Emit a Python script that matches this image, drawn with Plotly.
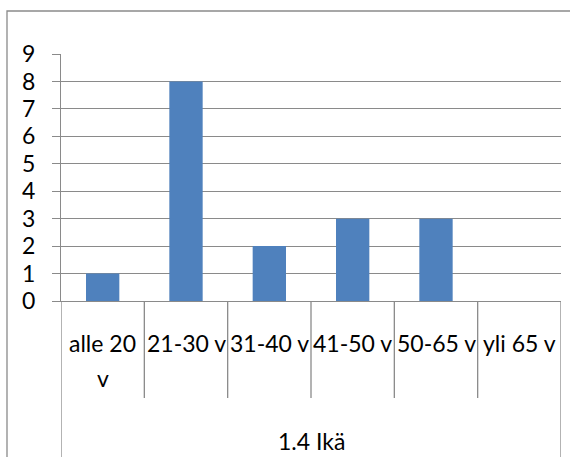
import plotly.graph_objects as go

categories = ["alle 20 v", "21-30 v", "31-40 v", "41-50 v", "50-65 v", "yli 65 v"]
label_lines = [["alle 20", "v"], ["21-30 v"], ["31-40 v"], ["41-50 v"], ["50-65 v"], ["yli 65 v"]]
values = [1, 8, 2, 3, 3, 0]
group_label = "1.4 Ikä"
y_ticks = list(range(0, 10))

W, H = 570, 457
ML, MR, MT, MB = 61, 9, 54, 156
PH = H - MT - MB
FONT = "Lato, Carlito, Calibri, sans-serif"
FS = 23
GRID = "#8a8a8a"

def py(px):
    # pixel y -> paper y
    return (H - MB - px) / PH

def pxp(px):
    return (px - ML) / (W - ML - MR)

fig = go.Figure(go.Bar(
    x=list(range(len(categories))), y=values,
    marker=dict(color="#4F81BD", line=dict(width=0)),
    width=0.4, hoverinfo="skip",
))

shapes = []
# outer chart border (top and left visible)
shapes.append(dict(type="rect", xref="paper", yref="paper",
                   x0=pxp(7), x1=pxp(580), y0=py(11), y1=py(480),
                   line=dict(color=GRID, width=1.3), layer="below"))
# category dividers in the axis table
n = len(categories)
for k in range(1, n):
    shapes.append(dict(type="line", xref="x", yref="paper",
                       x0=k - 0.5, x1=k - 0.5, y0=0, y1=py(398),
                       line=dict(color=GRID, width=1.3)))
for xe in (-0.5, n - 0.5):
    shapes.append(dict(type="line", xref="x", yref="paper",
                       x0=xe, x1=xe, y0=0, y1=py(480),
                       line=dict(color=GRID, width=1.3)))

annotations = []
for i, lines in enumerate(label_lines):
    for j, t in enumerate(lines):
        annotations.append(dict(x=i, xref="x", y=py(343 + 35 * j), yref="paper",
                                text=t, showarrow=False, yanchor="middle",
                                xanchor="center",
                                font=dict(family=FONT, size=FS, color="#000")))
annotations.append(dict(x=(n - 1) / 2, xref="x", y=py(441), yref="paper",
                        text=group_label, showarrow=False, yanchor="middle",
                        font=dict(family=FONT, size=FS, color="#000")))

fig.update_layout(
    width=W, height=H,
    margin=dict(l=ML, r=MR, t=MT, b=MB, pad=0),
    paper_bgcolor="white", plot_bgcolor="white",
    showlegend=False,
    bargap=0.6,
    xaxis=dict(range=[-0.5, n - 0.5], showticklabels=False, ticks="",
               showgrid=False, zeroline=False, showline=True,
               linecolor=GRID, linewidth=1.3, fixedrange=True),
    yaxis=dict(range=[0, 9], tickvals=y_ticks, ticks="outside", ticklen=8,
               tickcolor=GRID, tickwidth=1.3,
               showgrid=True, gridcolor=GRID, gridwidth=1.3,
               zeroline=False, showline=True, linecolor=GRID, linewidth=1.3,
               tickfont=dict(family=FONT, size=FS, color="#000"),
               ticklabelstandoff=12, fixedrange=True),
    shapes=shapes, annotations=annotations,
)

fig.write_html("out.html", config={"displayModeBar": False},
               post_script="document.body.style.margin='0';document.body.style.overflow='hidden';")
